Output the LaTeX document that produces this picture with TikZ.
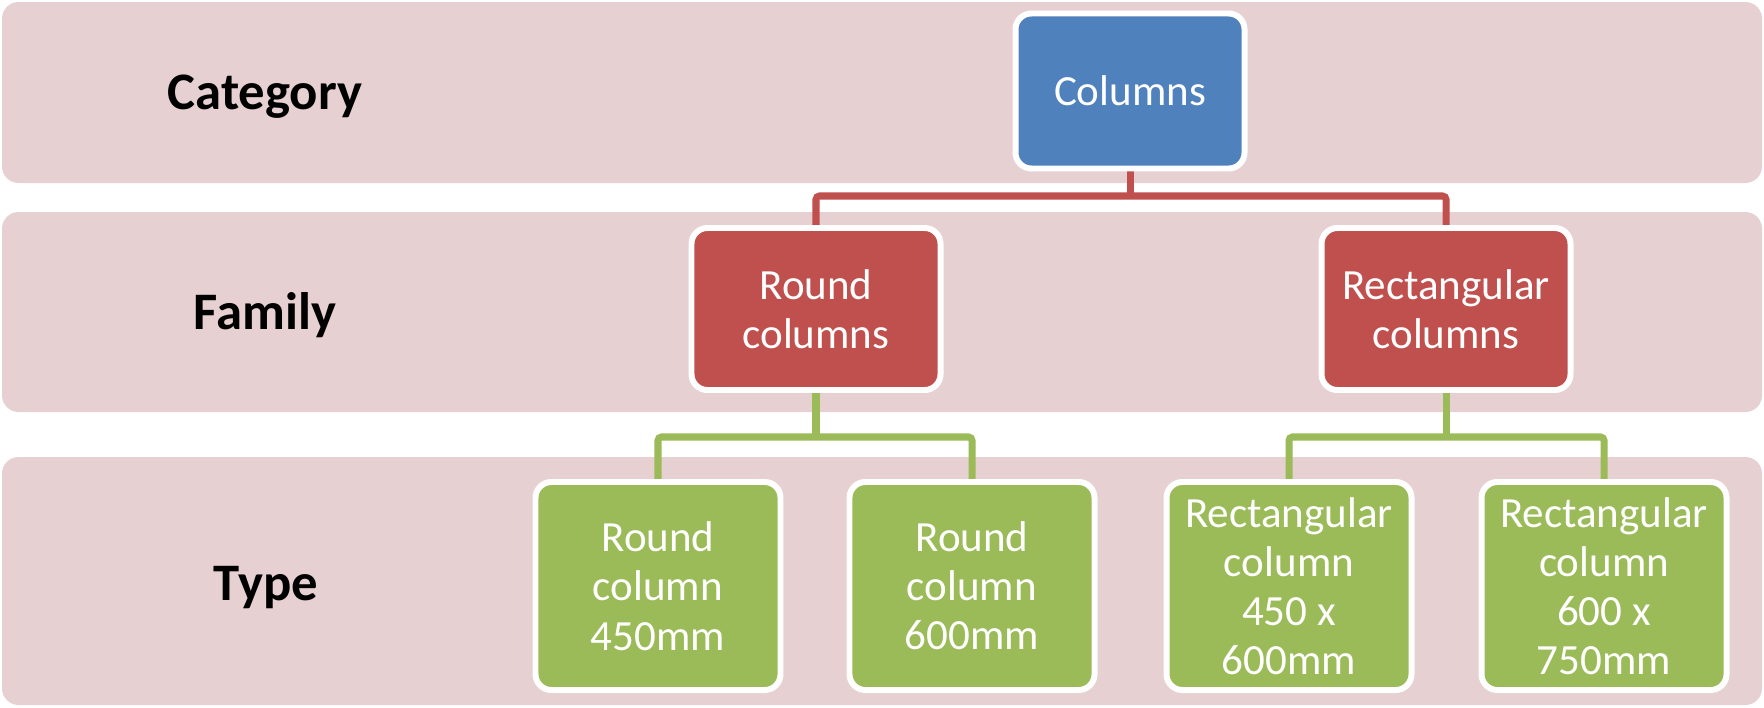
\documentclass[tikz,border=0pt]{standalone}
\usepackage{fontspec}
\setmainfont{Carlito}
\definecolor{bandpink}{HTML}{E7D0D1}
\definecolor{cblue}{HTML}{4F81BD}
\definecolor{cred}{HTML}{C0504D}
\definecolor{cgreen}{HTML}{9BBB59}
\pgfdeclarelayer{bg}
\pgfdeclarelayer{lines}
\pgfsetlayers{bg,lines,main}
\tikzset{
  band/.style={fill=bandpink, rounded corners=9.5pt},
  lvl/.style={font=\fontsize{30}{36}\selectfont\bfseries, text=black},
  box/.style={draw=white, line width=3.4pt, rounded corners=9pt, inner sep=0pt,
    align=center, text=white, font=\fontsize{24.5}{28}\selectfont},
  catbox/.style={box, fill=cblue, minimum width=229*0.02cm, minimum height=155*0.02cm},
  fambox/.style={box, fill=cred, minimum width=249*0.02cm, minimum height=162*0.02cm},
  typebox/.style={box, fill=cgreen, minimum width=245*0.02cm, minimum height=208*0.02cm},
  redline/.style={draw=cred, line width=4pt, rounded corners=2pt},
  greenline/.style={draw=cgreen, line width=4pt, rounded corners=2pt}
}
\begin{document}
\begin{tikzpicture}[x=0.02cm, y=-0.02cm]
\useasboundingbox (0,0) rectangle (1764,707);
\begin{pgfonlayer}{bg}
  \fill[white] (0,0) rectangle (1764,707);
  \path[band] (2,2) rectangle (1762,183);
  \path[band] (2,212) rectangle (1762,412);
  \path[band] (2,457) rectangle (1762,705);
\end{pgfonlayer}

\node[lvl] (lcat) at (265,97) {Category};
\node[lvl] (lfam) at (265,315) {Family};
\node[lvl] (ltype) at (266,588) {Type};

\node[catbox] (col) at (1130,91) {Columns};
\node[fambox] (f1) at (816,309) {Round\\columns};
\node[fambox] (f2) at (1446,309) {Rectangular\\columns};
\node[typebox] (t1) at (658,586) {Round\\column\\450mm};
\node[typebox] (t2) at (972,586) {Round\\column\\600mm};
\node[typebox] (t3) at (1289,586) {Rectangular\\column\\450 x\\600mm};
\node[typebox] (t4) at (1604,586) {Rectangular\\column\\600 x\\750mm};

\coordinate (rbus) at (0,196);
\coordinate (gbus) at (0,437);
\begin{pgfonlayer}{lines}
  \draw[redline] (col.south) -- (col.south |- rbus);
  \draw[redline] (f1.north) |- (col.south |- rbus) -| (f2.north);
  \draw[greenline] (f1.south) -- (f1.south |- gbus);
  \draw[greenline] (t1.north) |- (f1.south |- gbus) -| (t2.north);
  \draw[greenline] (f2.south) -- (f2.south |- gbus);
  \draw[greenline] (t3.north) |- (f2.south |- gbus) -| (t4.north);
\end{pgfonlayer}
\end{tikzpicture}
\end{document}
